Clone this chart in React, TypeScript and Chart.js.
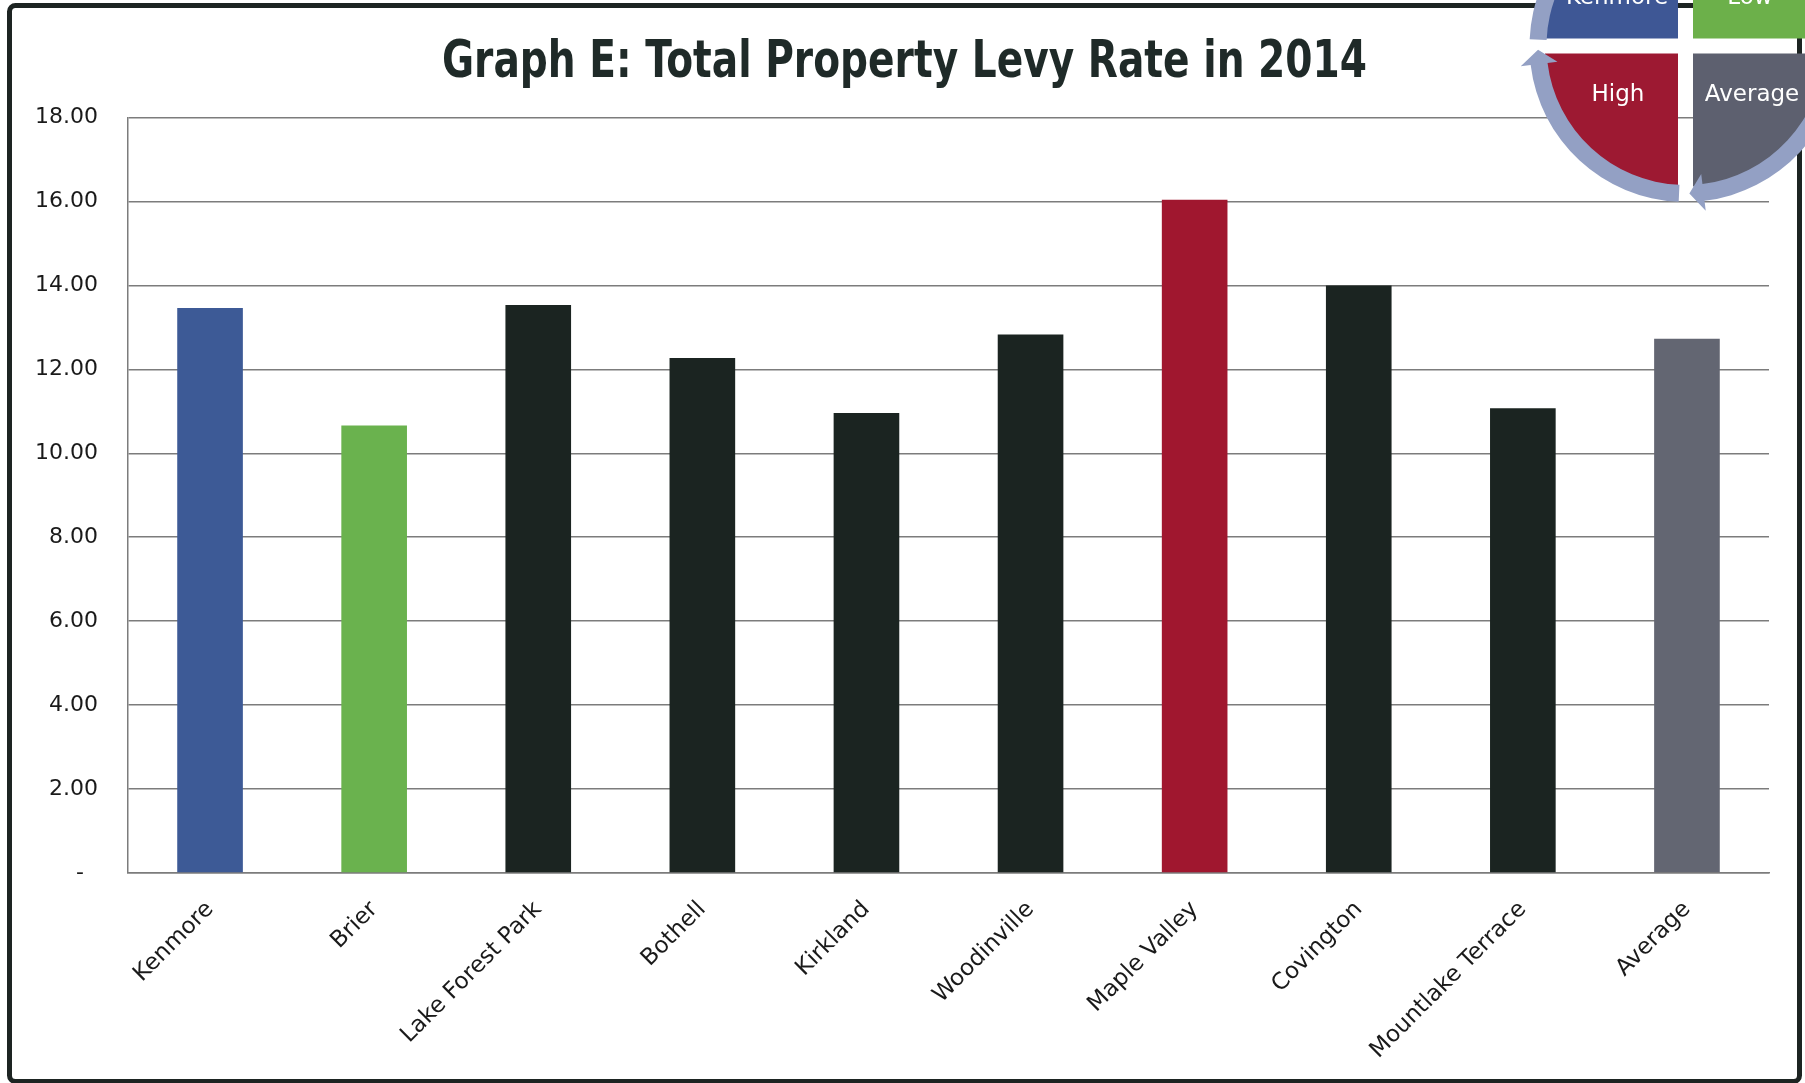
import React, { useEffect, useRef } from 'react';
import { Chart, registerables } from 'chart.js';

Chart.register(...registerables);

const W = 1805;
const H = 1083;

const titleText = 'Graph E: Total Property Levy Rate in 2014';
const categories = [
  'Kenmore',
  'Brier',
  'Lake Forest Park',
  'Bothell',
  'Kirkland',
  'Woodinville',
  'Maple Valley',
  'Covington',
  'Mountlake Terrace',
  'Average',
];
const levyRates = [13.46, 10.66, 13.53, 12.27, 10.96, 12.83, 16.04, 14.0, 11.07, 12.73];
const barColors = [
  '#3d5a96',
  '#6ab24e',
  '#1b2421',
  '#1b2421',
  '#1b2421',
  '#1b2421',
  '#a0172f',
  '#1b2421',
  '#1b2421',
  '#636672',
];
const yMin = 0;
const yMax = 18;
const yStep = 2;

// Key (cycle graphic) in the top-right corner: top-left, top-right, bottom-left, bottom-right
const keyLabels = ['Kenmore', 'Low', 'High', 'Average'];
const keyColors = ['#3e5795', '#6cb04a', '#9d1932', '#5d606f'];

export default function App() {
  const ref = useRef<HTMLCanvasElement>(null);

  useEffect(() => {
    const canvas = ref.current;
    if (!canvas) return;

    const framePlugin = {
      id: 'frame',
      beforeDraw(chart: any) {
        const ctx = chart.ctx as CanvasRenderingContext2D;
        ctx.save();
        ctx.fillStyle = '#ffffff';
        ctx.fillRect(0, 0, W, H);
        ctx.strokeStyle = '#1d2422';
        ctx.lineWidth = 5;
        ctx.beginPath();
        (ctx as any).roundRect(9.5, 5.5, 1790, 1076, 6);
        ctx.stroke();
        ctx.restore();
      },
    };

    const decorPlugin = {
      id: 'decor',
      afterDraw(chart: any) {
        const ctx = chart.ctx as CanvasRenderingContext2D;
        ctx.save();
        // Title
        ctx.font = 'bold 51px "Liberation Sans Narrow", "DejaVu Sans Condensed", "DejaVu Sans", sans-serif';
        const mw = ctx.measureText(titleText).width;
        const sx = mw > 0 ? 925 / mw : 1;
        ctx.fillStyle = '#1f2a28';
        ctx.textAlign = 'center';
        ctx.textBaseline = 'alphabetic';
        ctx.save();
        ctx.translate(904.5, 77);
        ctx.scale(sx, 1);
        ctx.fillText(titleText, 0, 0);
        ctx.restore();

        // Cycle graphic
        const cx = 1685.5;
        const cy = 46;
        const g = 7.5;
        const R = 133;
        const deg = Math.PI / 180;
        const quads = [
          { x: cx - g, y: cy - g, a0: 180, a1: 270 },
          { x: cx + g, y: cy - g, a0: 270, a1: 360 },
          { x: cx - g, y: cy + g, a0: 90, a1: 180 },
          { x: cx + g, y: cy + g, a0: 0, a1: 90 },
        ];
        quads.forEach((q, i) => {
          ctx.fillStyle = keyColors[i];
          ctx.beginPath();
          ctx.moveTo(q.x, q.y);
          ctx.arc(q.x, q.y, R, q.a0 * deg, q.a1 * deg);
          ctx.closePath();
          ctx.fill();
        });

        // Arrows ring
        const rIn = 139;
        const rOut = 156;
        const rMid = (rIn + rOut) / 2;
        const hIn = 129;
        const hOut = 166;
        ctx.fillStyle = '#93a0c4';
        [0, 90, 180, 270].forEach((base) => {
          const a0 = (base + 2.5) * deg;
          const a1 = (base + 83) * deg;
          const at = (base + 88.5) * deg;
          ctx.beginPath();
          ctx.arc(cx, cy, rOut, a0, a1);
          ctx.lineTo(cx + hOut * Math.cos(a1), cy + hOut * Math.sin(a1));
          ctx.lineTo(cx + rMid * Math.cos(at), cy + rMid * Math.sin(at));
          ctx.lineTo(cx + hIn * Math.cos(a1), cy + hIn * Math.sin(a1));
          ctx.lineTo(cx + rIn * Math.cos(a1), cy + rIn * Math.sin(a1));
          ctx.arc(cx, cy, rIn, a1, a0, true);
          ctx.closePath();
          ctx.fill();
        });

        // Key labels
        ctx.fillStyle = '#ffffff';
        ctx.font = '23px "DejaVu Sans", sans-serif';
        ctx.textAlign = 'center';
        ctx.textBaseline = 'alphabetic';
        const labelPos = [
          [1617, 4],
          [1750, 4],
          [1618, 101],
          [1752, 101],
        ];
        keyLabels.forEach((t, i) => {
          ctx.fillText(t, labelPos[i][0], labelPos[i][1]);
        });
        ctx.restore();
      },
    };

    const chart = new Chart(canvas, {
      type: 'bar',
      data: {
        labels: categories,
        datasets: [
          {
            label: 'Total Property Levy Rate',
            data: levyRates,
            backgroundColor: barColors,
            borderWidth: 0,
            categoryPercentage: 1,
            barPercentage: 0.4,
          },
        ],
      },
      options: {
        responsive: false,
        animation: false,
        devicePixelRatio: 1,
        layout: { padding: { top: 117.5, left: 0, right: 36, bottom: 0 } },
        plugins: {
          legend: { display: false },
          title: { display: false },
          tooltip: { enabled: false },
        },
        scales: {
          x: {
            grid: { display: false, drawTicks: false },
            border: { display: true, color: '#7c7c7c', width: 1.5 },
            ticks: {
              autoSkip: false,
              maxRotation: 45,
              minRotation: 45,
              padding: 23,
              labelOffset: 0,
              color: '#1a1a1a',
              font: { family: '"DejaVu Sans", sans-serif', size: 23 },
            },
            afterFit(scale: any) {
              scale.height = 210;
              scale.paddingLeft = 0;
              scale.paddingRight = 0;
            },
          },
          y: {
            min: yMin,
            max: yMax,
            grid: { color: '#7c7c7c', lineWidth: 1.5, drawTicks: false },
            border: { display: true, color: '#7c7c7c', width: 1.5 },
            ticks: {
              stepSize: yStep,
              padding: 30,
              color: '#1a1a1a',
              font: { family: '"DejaVu Sans", sans-serif', size: 22 },
              callback: (v: any) => (Number(v) === 0 ? '-  ' : Number(v).toFixed(2)),
            },
            afterFit(scale: any) {
              scale.width = 128;
              scale.paddingTop = 0;
              scale.paddingBottom = 0;
            },
          },
        },
      },
      plugins: [framePlugin, decorPlugin],
    });

    return () => {
      chart.destroy();
    };
  }, []);

  return (
    <div style={{ position: 'absolute', left: 0, top: 0, width: W, height: H, background: '#ffffff' }}>
      <canvas ref={ref} width={W} height={H} style={{ width: W, height: H, display: 'block' }} />
    </div>
  );
}
